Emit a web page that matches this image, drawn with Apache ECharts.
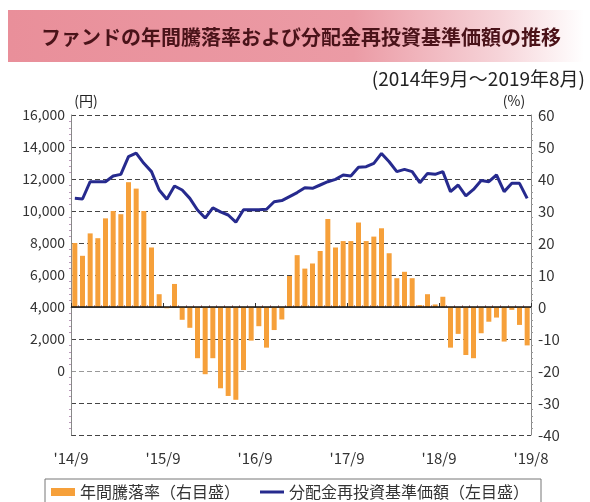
<!DOCTYPE html>
<html>
<head>
<meta charset="utf-8">
<script src="https://cdn.jsdelivr.net/npm/echarts@6/dist/echarts.min.js"></script>
<style>
html,body{margin:0;padding:0;background:#fff;}
#chart{width:590px;height:502px;}
</style>
</head>
<body>
<div id="chart"></div>
<script>
// ---- data ----
var titleText = 'ファンドの年間騰落率および分配金再投資基準価額の推移';
var periodText = '(2014年9月～2019年8月)';
var rateName = '年間騰落率（右目盛）';
var navName = '分配金再投資基準価額（左目盛）';
var tickLabels = ["'14/9", "'15/9", "'16/9", "'17/9", "'18/9", "'19/8"];
var months = [];
(function(){ var y = 2014, m = 9; for (var i = 0; i < 60; i++) { months.push(y + '/' + m); m++; if (m > 12) { m = 1; y++; } } })();
var rates = [20, 16, 23, 21.5, 27.7, 30, 29, 39, 37, 30,
             18.6, 4, -0.4, 7.2, -4, -6.5, -16, -21, -16, -25.4,
             -27.8, -29, -19.7, -10.5, -6, -12.7, -7.2, -3.9, 9.7, 16.2,
             12, 13.6, 17.5, 27.5, 18.6, 20.6, 20.6, 26.4, 20.6, 22,
             24.6, 16.8, 9, 11, 9, 0.6, 4, 0.8, 3.2, -12.7,
             -8.4, -15, -16, -8.2, -4.6, -3.3, -10.8, -0.9, -5.6, -12];
var nav = [10790, 10750, 11830, 11830, 11830, 12190, 12290, 13400, 13620, 12980,
           12460, 11310, 10730, 11560, 11310, 10790, 10060, 9560, 10200, 9950,
           9750, 9300, 10080, 10080, 10080, 10110, 10580, 10650, 10900, 11150,
           11460, 11420, 11625, 11830, 11980, 12250, 12190, 12730, 12770, 12980,
           13600, 13080, 12460, 12600, 12460, 11770, 12350, 12290, 12460, 11210,
           11625, 10940, 11350, 11900, 11830, 12250, 11210, 11730, 11730, 10790];

var FONT = '"Noto Sans CJK JP", "Noto Sans", sans-serif';
var chart = echarts.init(document.getElementById('chart'), null, {renderer: 'canvas'});
chart.setOption({
  animation: false,
  backgroundColor: '#ffffff',
  textStyle: {fontFamily: FONT},
  graphic: [
    {type: 'rect', shape: {x: 8, y: 10, width: 576, height: 52},
     style: {fill: new echarts.graphic.LinearGradient(0, 0, 1, 0, [
       {offset: 0, color: '#e98f9a'}, {offset: 0.6, color: '#eb9ba5'},
       {offset: 0.85, color: '#f6d3d8'}, {offset: 1, color: '#ffffff'}])}, z: 0},
    {type: 'text', x: 301, y: 37, z: 5,
     style: {text: titleText, font: 'bold 20px ' + FONT, fill: '#4a1319', textAlign: 'center', textVerticalAlign: 'middle'}},
    {type: 'text', x: 585, y: 79, z: 5,
     style: {text: periodText, font: '19px ' + FONT, fill: '#222', textAlign: 'right', textVerticalAlign: 'middle'}},
    {type: 'text', x: 86, y: 101, z: 5,
     style: {text: '(円)', font: '14px ' + FONT, fill: '#222', textAlign: 'center', textVerticalAlign: 'middle'}},
    {type: 'text', x: 514, y: 101, z: 5,
     style: {text: '(%)', font: '14px ' + FONT, fill: '#222', textAlign: 'center', textVerticalAlign: 'middle'}}
  ],
  legend: {
    left: 45, top: 479,
    padding: [5, 12, 12, 6],
    borderColor: '#777', borderWidth: 1,
    itemGap: 20, itemWidth: 24, itemHeight: 8,
    textStyle: {fontSize: 16, color: '#333', fontFamily: FONT},
    data: [{name: rateName, icon: 'rect'},
           {name: navName, icon: 'path://M0 0H24V3H0Z', itemStyle: {color: '#262a8e'}}]
  },
  grid: {left: 71, right: 59, top: 115, bottom: 67, containLabel: false},
  xAxis: [
    {type: 'category', data: months, show: false, boundaryGap: true},
    {type: 'value', min: 0, max: 60, interval: 12, position: 'bottom',
     axisLine: {show: true, lineStyle: {color: '#888', width: 1}},
     axisTick: {show: true, inside: true, length: 4, lineStyle: {color: '#333'}},
     minorTick: {show: true, splitNumber: 12, length: 2, lineStyle: {color: '#c99'}},
     splitLine: {show: false},
     axisLabel: {fontSize: 15, color: '#333', margin: 16, fontFamily: FONT,
       formatter: function (v) { return tickLabels[Math.round(v / 12)]; }}}
  ],
  yAxis: [
    {type: 'value', min: -4000, max: 16000, interval: 2000, position: 'left',
     axisLine: {show: true, lineStyle: {color: '#888'}},
     axisTick: {show: false},
     minorTick: {show: true, splitNumber: 5, length: 2, lineStyle: {color: '#b9b'}},
     axisLabel: {fontSize: 14, color: '#333', margin: 6, fontFamily: FONT,
       formatter: function (v) { return v < 0 ? '' : v.toLocaleString('en-US'); }},
     splitLine: {show: true, lineStyle: {color: ['#444','#444','#999','#444','#444','#444','#444','#444','#444','#444','#444'], type: [5, 3], width: 1}}},
    {type: 'value', min: -40, max: 60, interval: 10, position: 'right',
     axisLine: {show: true, lineStyle: {color: '#888'}},
     axisTick: {show: false},
     minorTick: {show: true, splitNumber: 5, length: 2, lineStyle: {color: '#999'}},
     axisLabel: {fontSize: 15, color: '#333', margin: 7, fontFamily: FONT},
     splitLine: {show: false}}
  ],
  series: [
    {name: rateName, type: 'bar', xAxisIndex: 0, yAxisIndex: 1, data: rates,
     barWidth: 5, itemStyle: {color: '#f6a03a'}, z: 2,
     markLine: {silent: true, symbol: 'none', label: {show: false},
       lineStyle: {color: '#111', type: 'solid', width: 1.5},
       data: [{yAxis: 0}]}},
    {name: navName, type: 'line', xAxisIndex: 0, yAxisIndex: 0, data: nav,
     symbol: 'none', smooth: false, z: 4,
     lineStyle: {color: '#262a8e', width: 3}, itemStyle: {color: '#262a8e'}}
  ]
});
</script>
</body>
</html>
